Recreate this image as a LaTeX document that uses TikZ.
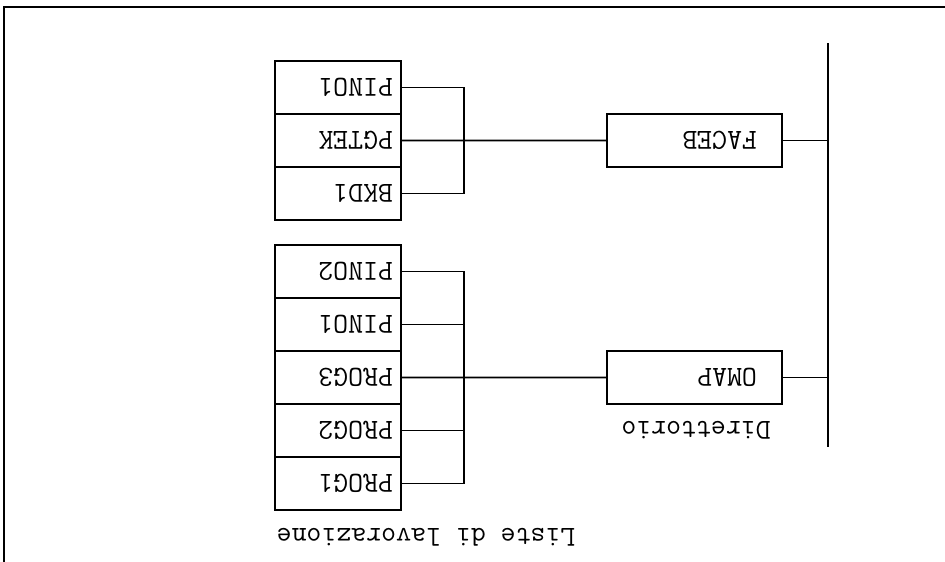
\documentclass[tikz,border=0pt]{standalone}
\usepackage{fontspec}
\usepackage{tikz}
\usetikzlibrary{positioning}

\begin{document}
\begin{tikzpicture}[
  rotate=180, transform shape,
  font=\fontsize{16.5}{18}\selectfont\ttfamily,
  line width=0.9pt,
  dirbox/.style={
    draw,
    minimum width=3.5cm,
    minimum height=1.06cm,
    inner xsep=0.5cm,
    text width=2.5cm,
    align=left
  },
  cell/.style={
    draw,
    outer sep=0pt,
    minimum width=2.52cm,
    minimum height=1.06cm,
    inner xsep=0.16cm,
    text width=2.2cm,
    align=left
  },
  caption/.style={inner sep=0pt}
]
  % the scan is upside down: drawn upright, then turned
  \useasboundingbox (0,0) rectangle (18.9,-11.24);
  \draw (0,-11.10) -- (18.82,-11.10) -- (18.82,0);

  \coordinate (bustop) at (2.34,-2.30);
  \coordinate (busbot) at (2.34,-10.38);
  \draw (bustop) -- (busbot);

  \node[caption] (dirlbl) at (4.98,-2.64) {Direttorio};
  \node[dirbox] (omap) at (5.01,-3.69) {OMAP};
  \node[dirbox] (faceb) at (5.01,-8.43) {FACEB};

  \node[caption] (liste) at (10.38,-0.5) {Liste di lavorazione};
  \node[cell] (o1) at (12.14,-1.57) {PROG1};
  \node[cell, below=0pt of o1] (o2) {PROG2};
  \node[cell, below=0pt of o2] (o3) {PROG3};
  \node[cell, below=0pt of o3] (o4) {PINO1};
  \node[cell, below=0pt of o4] (o5) {PINO2};

  \node[cell] (f1) at (12.14,-7.37) {BKD1};
  \node[cell, below=0pt of f1] (f2) {PGTEK};
  \node[cell, below=0pt of f2] (f3) {PINO1};

  \coordinate (obar) at (9.62,-1.57);
  \coordinate (fbar) at (9.62,-7.37);

  \draw (omap.west) -- (omap.west -| bustop);
  \draw (faceb.west) -- (faceb.west -| bustop);
  \draw (omap.east) -- (o3.west);
  \draw (faceb.east) -- (f2.west);

  \draw (o1.west) -- (o1.west -| obar) -- (o5.west -| obar) -- (o5.west);
  \draw (o2.west) -- (o2.west -| obar);
  \draw (o4.west) -- (o4.west -| obar);
  \draw (f1.west) -- (f1.west -| fbar) -- (f3.west -| fbar) -- (f3.west);
\end{tikzpicture}
\end{document}
